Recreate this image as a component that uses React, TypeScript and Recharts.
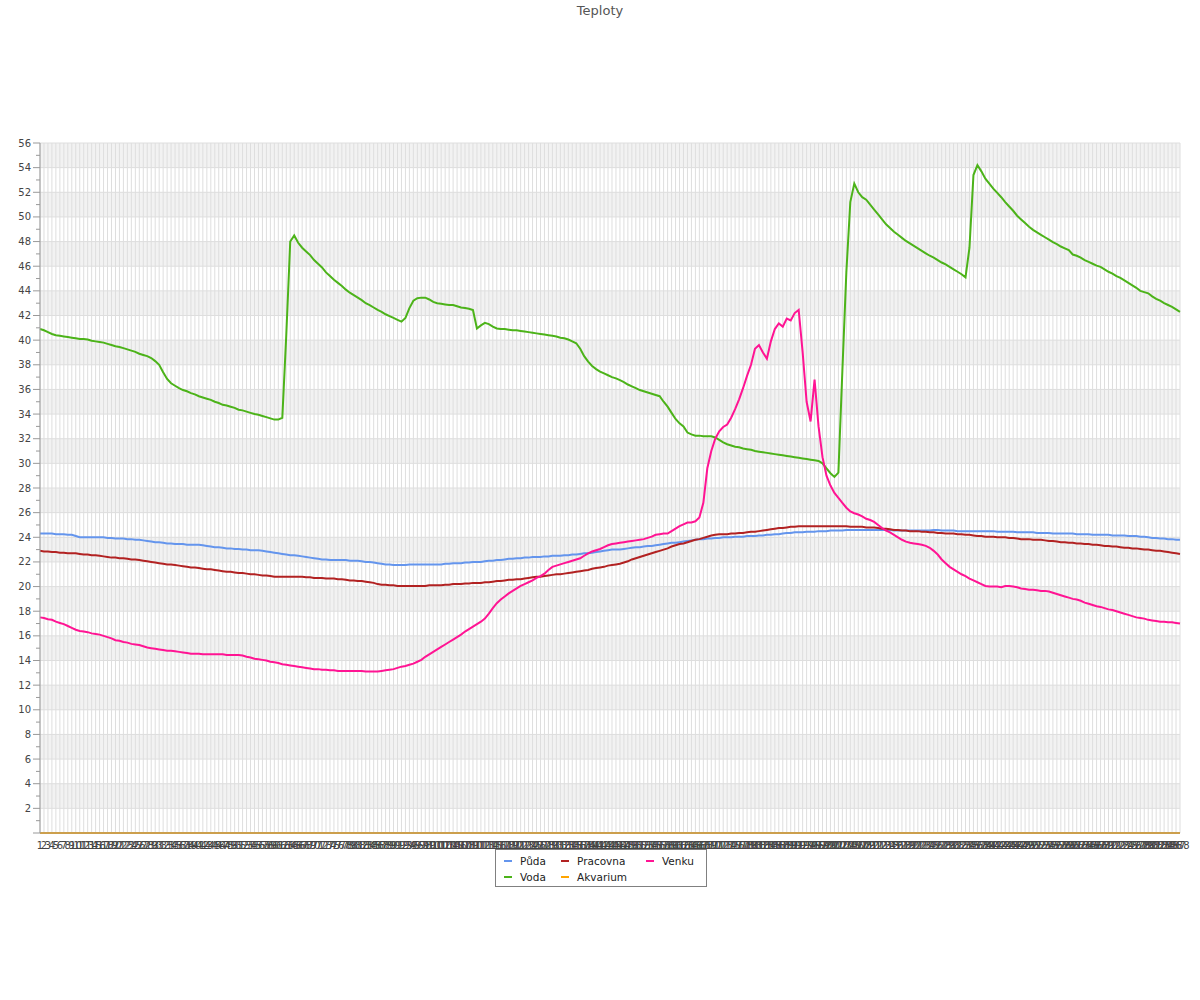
import { LineChart, Line, XAxis, YAxis, CartesianGrid, Legend } from "recharts";

// 5-minute samples over one day
const CATEGORIES = Array.from({ length: 288 }, (_, i) => String(i + 1));

const Y_TICKS = Array.from({ length: 57 }, (_, i) => i);
const GRID_TICKS = Y_TICKS.filter((v) => v % 2 === 0);

const PUDA = [
  24.3, 24.3, 24.3, 24.3, 24.25, 24.25, 24.25, 24.2, 24.2, 24.1,
  24.0, 24.0, 24.0, 24.0, 24.0, 24.0, 24.0, 23.95, 23.95, 23.9,
  23.9, 23.9, 23.85, 23.85, 23.8, 23.8, 23.75, 23.7, 23.65, 23.6,
  23.6, 23.55, 23.5, 23.5, 23.45, 23.45, 23.45, 23.4, 23.4, 23.4,
  23.4, 23.35, 23.3, 23.25, 23.2, 23.2, 23.15, 23.1, 23.1, 23.05,
  23.05, 23.0, 23.0, 22.95, 22.95, 22.95, 22.9, 22.85, 22.8, 22.75,
  22.7, 22.65, 22.6, 22.55, 22.55, 22.5, 22.45, 22.4, 22.35, 22.3,
  22.25, 22.2, 22.2, 22.15, 22.15, 22.15, 22.15, 22.15, 22.1, 22.1,
  22.1, 22.05, 22.0, 22.0, 21.95, 21.9, 21.85, 21.8, 21.8, 21.75,
  21.75, 21.75, 21.75, 21.8, 21.8, 21.8, 21.8, 21.8, 21.8, 21.8,
  21.8, 21.8, 21.85, 21.85, 21.9, 21.9, 21.9, 21.95, 21.95, 22.0,
  22.0, 22.0, 22.05, 22.1, 22.1, 22.15, 22.15, 22.2, 22.25, 22.25,
  22.3, 22.3, 22.35, 22.35, 22.4, 22.4, 22.4, 22.45, 22.45, 22.5,
  22.5, 22.5, 22.55, 22.55, 22.6, 22.6, 22.65, 22.7, 22.7, 22.75,
  22.8, 22.85, 22.9, 22.95, 23.0, 23.0, 23.0, 23.05, 23.1, 23.15,
  23.2, 23.2, 23.25, 23.3, 23.3, 23.35, 23.4, 23.45, 23.5, 23.55,
  23.55, 23.6, 23.65, 23.7, 23.75, 23.8, 23.85, 23.85, 23.9, 23.9,
  23.95, 23.95, 24.0, 24.0, 24.0, 24.05, 24.05, 24.05, 24.1, 24.1,
  24.1, 24.15, 24.15, 24.2, 24.2, 24.25, 24.25, 24.3, 24.35, 24.35,
  24.4, 24.4, 24.4, 24.45, 24.45, 24.45, 24.5, 24.5, 24.5, 24.55,
  24.55, 24.55, 24.55, 24.6, 24.6, 24.6, 24.6, 24.6, 24.6, 24.6,
  24.6, 24.6, 24.6, 24.6, 24.6, 24.55, 24.55, 24.55, 24.55, 24.55,
  24.55, 24.55, 24.55, 24.55, 24.55, 24.6, 24.6, 24.55, 24.55, 24.55,
  24.55, 24.5, 24.5, 24.5, 24.5, 24.5, 24.5, 24.5, 24.5, 24.5,
  24.5, 24.45, 24.45, 24.45, 24.45, 24.45, 24.4, 24.4, 24.4, 24.4,
  24.4, 24.35, 24.35, 24.35, 24.35, 24.3, 24.3, 24.3, 24.3, 24.3,
  24.3, 24.25, 24.25, 24.25, 24.25, 24.2, 24.2, 24.2, 24.2, 24.2,
  24.15, 24.15, 24.15, 24.15, 24.1, 24.1, 24.1, 24.05, 24.05, 24.0,
  23.95, 23.95, 23.9, 23.9, 23.85, 23.85, 23.8, 23.8,
];

const PRACOVNA = [
  22.9, 22.85, 22.85, 22.8, 22.8, 22.75, 22.75, 22.7, 22.7, 22.7,
  22.65, 22.6, 22.6, 22.55, 22.55, 22.5, 22.45, 22.4, 22.35, 22.35,
  22.3, 22.3, 22.25, 22.2, 22.2, 22.15, 22.1, 22.05, 22.0, 21.95,
  21.9, 21.85, 21.8, 21.8, 21.75, 21.7, 21.65, 21.6, 21.55, 21.55,
  21.5, 21.45, 21.4, 21.4, 21.35, 21.3, 21.25, 21.2, 21.2, 21.15,
  21.1, 21.1, 21.05, 21.0, 21.0, 20.95, 20.9, 20.9, 20.85, 20.8,
  20.8, 20.8, 20.8, 20.8, 20.8, 20.8, 20.8, 20.75, 20.75, 20.7,
  20.7, 20.7, 20.65, 20.65, 20.65, 20.6, 20.6, 20.55, 20.5, 20.5,
  20.45, 20.45, 20.4, 20.35, 20.3, 20.2, 20.15, 20.15, 20.1, 20.1,
  20.05, 20.05, 20.05, 20.05, 20.05, 20.05, 20.05, 20.05, 20.1, 20.1,
  20.1, 20.1, 20.15, 20.15, 20.2, 20.2, 20.2, 20.25, 20.25, 20.3,
  20.3, 20.3, 20.35, 20.35, 20.4, 20.45, 20.45, 20.5, 20.55, 20.55,
  20.6, 20.6, 20.65, 20.7, 20.75, 20.8, 20.8, 20.85, 20.9, 20.95,
  21.0, 21.0, 21.05, 21.1, 21.15, 21.2, 21.25, 21.3, 21.35, 21.45,
  21.5, 21.55, 21.6, 21.7, 21.75, 21.8, 21.85, 21.95, 22.05, 22.2,
  22.3, 22.4, 22.5, 22.6, 22.7, 22.8, 22.9, 23.0, 23.1, 23.25,
  23.35, 23.45, 23.5, 23.6, 23.7, 23.8, 23.85, 23.95, 24.05, 24.15,
  24.2, 24.25, 24.25, 24.25, 24.3, 24.3, 24.35, 24.35, 24.4, 24.45,
  24.45, 24.5, 24.55, 24.6, 24.65, 24.7, 24.75, 24.75, 24.8, 24.85,
  24.85, 24.9, 24.9, 24.9, 24.9, 24.9, 24.9, 24.9, 24.9, 24.9,
  24.9, 24.9, 24.9, 24.9, 24.85, 24.85, 24.85, 24.85, 24.8, 24.8,
  24.8, 24.75, 24.7, 24.7, 24.65, 24.6, 24.6, 24.55, 24.55, 24.5,
  24.5, 24.5, 24.45, 24.45, 24.4, 24.4, 24.35, 24.35, 24.3, 24.3,
  24.3, 24.25, 24.25, 24.2, 24.2, 24.15, 24.1, 24.1, 24.05, 24.05,
  24.05, 24.0, 24.0, 24.0, 23.95, 23.95, 23.9, 23.85, 23.85, 23.85,
  23.8, 23.8, 23.8, 23.75, 23.7, 23.7, 23.65, 23.6, 23.6, 23.55,
  23.55, 23.5, 23.5, 23.45, 23.45, 23.4, 23.4, 23.35, 23.3, 23.3,
  23.25, 23.25, 23.2, 23.15, 23.15, 23.1, 23.1, 23.05, 23.0, 23.0,
  22.95, 22.9, 22.9, 22.85, 22.8, 22.75, 22.7, 22.65,
];

const VENKU = [
  17.5, 17.45, 17.35, 17.3, 17.15, 17.05, 16.95, 16.8, 16.65, 16.5,
  16.4, 16.35, 16.3, 16.2, 16.15, 16.1, 16.0, 15.9, 15.8, 15.65,
  15.6, 15.5, 15.45, 15.35, 15.3, 15.25, 15.15, 15.05, 15.0, 14.95,
  14.9, 14.85, 14.8, 14.8, 14.75, 14.7, 14.65, 14.6, 14.55, 14.55,
  14.55, 14.5, 14.5, 14.5, 14.5, 14.5, 14.5, 14.45, 14.45, 14.45,
  14.45, 14.4, 14.3, 14.25, 14.15, 14.1, 14.05, 14.0, 13.9, 13.85,
  13.8, 13.7, 13.65, 13.6, 13.55, 13.5, 13.45, 13.4, 13.35, 13.3,
  13.3, 13.25, 13.25, 13.2, 13.2, 13.15, 13.15, 13.15, 13.15, 13.15,
  13.15, 13.15, 13.1, 13.1, 13.1, 13.1, 13.15, 13.2, 13.25, 13.3,
  13.4, 13.5, 13.55, 13.65, 13.75, 13.9, 14.05, 14.3, 14.5, 14.7,
  14.9, 15.1, 15.3, 15.5, 15.7, 15.9, 16.1, 16.35, 16.55, 16.75,
  16.95, 17.15, 17.4, 17.8, 18.25, 18.65, 18.95, 19.2, 19.45, 19.65,
  19.85, 20.05, 20.2, 20.35, 20.5, 20.7, 20.85, 21.05, 21.35, 21.6,
  21.7, 21.8, 21.9, 22.0, 22.1, 22.2, 22.3, 22.5, 22.7, 22.85,
  22.95, 23.05, 23.2, 23.35, 23.45, 23.5, 23.55, 23.6, 23.65, 23.7,
  23.75, 23.8, 23.85, 23.95, 24.05, 24.2, 24.25, 24.3, 24.3, 24.5,
  24.7, 24.9, 25.05, 25.2, 25.2, 25.3, 25.6, 26.8, 29.6, 31.0,
  32.0, 32.6, 32.95, 33.15, 33.7, 34.4, 35.2, 36.1, 37.1, 38.0,
  39.3, 39.6, 39.0, 38.5, 39.9, 40.9, 41.35, 41.1, 41.75, 41.6,
  42.2, 42.45, 39.0, 35.0, 33.4, 36.8, 33.0, 30.5, 29.0, 28.2,
  27.6, 27.2, 26.8, 26.4, 26.1, 25.95, 25.85, 25.7, 25.5, 25.4,
  25.25, 25.0, 24.75, 24.55, 24.4, 24.2, 24.0, 23.8, 23.65, 23.55,
  23.5, 23.45, 23.4, 23.3, 23.15, 22.9, 22.6, 22.2, 21.9, 21.6,
  21.4, 21.2, 21.0, 20.85, 20.65, 20.5, 20.35, 20.2, 20.05, 20.0,
  20.0, 20.0, 19.95, 20.05, 20.05, 20.0, 19.95, 19.85, 19.8, 19.75,
  19.75, 19.7, 19.65, 19.65, 19.6, 19.5, 19.4, 19.3, 19.2, 19.1,
  19.0, 18.95, 18.85, 18.7, 18.6, 18.5, 18.4, 18.35, 18.25, 18.15,
  18.1, 18.0, 17.9, 17.8, 17.7, 17.6, 17.5, 17.45, 17.4, 17.3,
  17.25, 17.2, 17.15, 17.15, 17.1, 17.1, 17.05, 17.0,
];

const VODA = [
  40.9, 40.8, 40.65, 40.5, 40.4, 40.35, 40.3, 40.25, 40.2, 40.15,
  40.1, 40.1, 40.05, 39.95, 39.9, 39.85, 39.8, 39.7, 39.6, 39.5,
  39.45, 39.35, 39.25, 39.15, 39.05, 38.9, 38.8, 38.7, 38.55, 38.3,
  38.0, 37.4, 36.85, 36.5, 36.3, 36.1, 35.95, 35.85, 35.7, 35.6,
  35.45, 35.35, 35.25, 35.15, 35.0, 34.9, 34.75, 34.7, 34.6, 34.5,
  34.35, 34.3, 34.2, 34.1, 34.0, 33.95, 33.85, 33.75, 33.65, 33.55,
  33.55, 33.7, 40.4, 48.0, 48.5, 47.9, 47.5, 47.2, 46.9, 46.5,
  46.2, 45.9, 45.5, 45.2, 44.9, 44.65, 44.4, 44.1, 43.85, 43.65,
  43.45, 43.25, 43.0, 42.85, 42.65, 42.45, 42.3, 42.1, 41.95, 41.8,
  41.65, 41.5, 41.8, 42.6, 43.2, 43.4, 43.45, 43.45, 43.3, 43.1,
  43.0, 42.95, 42.9, 42.85, 42.85, 42.75, 42.65, 42.6, 42.55, 42.45,
  40.95, 41.2, 41.4, 41.3, 41.1, 40.95, 40.9, 40.9, 40.85, 40.8,
  40.8, 40.75, 40.7, 40.65, 40.6, 40.55, 40.5, 40.45, 40.4, 40.35,
  40.3, 40.2, 40.15, 40.05, 39.9, 39.75, 39.3, 38.7, 38.25, 37.9,
  37.65, 37.45, 37.3, 37.15, 37.0, 36.9, 36.75, 36.6, 36.4, 36.25,
  36.1, 35.95, 35.85, 35.75, 35.65, 35.55, 35.45, 35.0, 34.6, 34.1,
  33.6, 33.25, 33.0, 32.5, 32.35, 32.25, 32.25, 32.2, 32.2, 32.2,
  32.1, 31.9, 31.7, 31.55, 31.45, 31.35, 31.3, 31.2, 31.15, 31.1,
  31.0, 30.95, 30.9, 30.85, 30.8, 30.75, 30.7, 30.65, 30.6, 30.55,
  30.5, 30.45, 30.4, 30.35, 30.3, 30.25, 30.2, 30.0, 29.6, 29.2,
  28.9, 29.25, 37.5, 45.5, 51.2, 52.7, 52.0, 51.6, 51.4, 51.0,
  50.6, 50.2, 49.8, 49.4, 49.1, 48.8, 48.55, 48.3, 48.05, 47.85,
  47.65, 47.45, 47.25, 47.05, 46.85, 46.7, 46.5, 46.3, 46.15, 45.95,
  45.75, 45.55, 45.35, 45.1, 47.5, 53.4, 54.2, 53.7, 53.1, 52.7,
  52.3, 51.95, 51.6, 51.2, 50.85, 50.5, 50.1, 49.8, 49.5, 49.2,
  48.95, 48.75, 48.55, 48.35, 48.15, 47.95, 47.8, 47.6, 47.45, 47.3,
  46.95, 46.85, 46.7, 46.5, 46.35, 46.2, 46.05, 45.95, 45.75, 45.55,
  45.4, 45.2, 45.05, 44.85, 44.65, 44.45, 44.25, 44.0, 43.9, 43.8,
  43.55, 43.35, 43.2, 43.0, 42.85, 42.7, 42.5, 42.3,
];

const AKVARIUM = [
  0, 0, 0, 0, 0, 0, 0, 0, 0, 0, 0, 0, 0, 0, 0, 0, 0, 0, 0, 0, 0, 0, 0, 0,
  0, 0, 0, 0, 0, 0, 0, 0, 0, 0, 0, 0, 0, 0, 0, 0, 0, 0, 0, 0, 0, 0, 0, 0,
  0, 0, 0, 0, 0, 0, 0, 0, 0, 0, 0, 0, 0, 0, 0, 0, 0, 0, 0, 0, 0, 0, 0, 0,
  0, 0, 0, 0, 0, 0, 0, 0, 0, 0, 0, 0, 0, 0, 0, 0, 0, 0, 0, 0, 0, 0, 0, 0,
  0, 0, 0, 0, 0, 0, 0, 0, 0, 0, 0, 0, 0, 0, 0, 0, 0, 0, 0, 0, 0, 0, 0, 0,
  0, 0, 0, 0, 0, 0, 0, 0, 0, 0, 0, 0, 0, 0, 0, 0, 0, 0, 0, 0, 0, 0, 0, 0,
  0, 0, 0, 0, 0, 0, 0, 0, 0, 0, 0, 0, 0, 0, 0, 0, 0, 0, 0, 0, 0, 0, 0, 0,
  0, 0, 0, 0, 0, 0, 0, 0, 0, 0, 0, 0, 0, 0, 0, 0, 0, 0, 0, 0, 0, 0, 0, 0,
  0, 0, 0, 0, 0, 0, 0, 0, 0, 0, 0, 0, 0, 0, 0, 0, 0, 0, 0, 0, 0, 0, 0, 0,
  0, 0, 0, 0, 0, 0, 0, 0, 0, 0, 0, 0, 0, 0, 0, 0, 0, 0, 0, 0, 0, 0, 0, 0,
  0, 0, 0, 0, 0, 0, 0, 0, 0, 0, 0, 0, 0, 0, 0, 0, 0, 0, 0, 0, 0, 0, 0, 0,
  0, 0, 0, 0, 0, 0, 0, 0, 0, 0, 0, 0, 0, 0, 0, 0, 0, 0, 0, 0, 0, 0, 0, 0,
];

const SERIES = [
  { key: "puda", name: "Půda", color: "#6495ed", values: PUDA },
  { key: "voda", name: "Voda", color: "#4cb319", values: VODA },
  { key: "pracovna", name: "Pracovna", color: "#b22222", values: PRACOVNA },
  { key: "akvarium", name: "Akvarium", color: "#ffa500", values: AKVARIUM },
  { key: "venku", name: "Venku", color: "#ff1493", values: VENKU },
];

// legend reads row by row: Půda, Pracovna, Venku / Voda, Akvarium
const LEGEND_ORDER = ["puda", "pracovna", "venku", "voda", "akvarium"];

const data = CATEGORIES.map((name, i) => {
  const row: Record<string, string | number> = { name };
  SERIES.forEach((s) => {
    row[s.key] = s.values[i];
  });
  return row;
});

function YTick(props: any) {
  const { x, y, payload } = props;
  const v = payload.value as number;
  const major = v % 2 === 0;
  return (
    <g>
      <line x1={x - (major ? 7 : 4)} x2={x} y1={y} y2={y} stroke="#999" />
      {major && v !== 0 && (
        <text x={x - 9} y={y} dy="0.35em" textAnchor="end" fontSize={10} fill="#444">
          {v}
        </text>
      )}
    </g>
  );
}

function LegendBox() {
  return (
    <div
      style={{
        border: "1px solid #808080",
        background: "#fff",
        display: "grid",
        gridTemplateColumns: "57px 85px 58px",
        padding: "3px 0 1px 8px",
        fontSize: 10.5,
        color: "#222",
      }}
    >
      {LEGEND_ORDER.map((k) => {
        const s = SERIES.find((x) => x.key === k)!;
        return (
          <div key={k} style={{ display: "flex", alignItems: "center", height: 16 }}>
            <span
              style={{
                display: "inline-block",
                width: 8,
                height: 2,
                background: s.color,
                marginRight: 8,
              }}
            />
            {s.name}
          </div>
        );
      })}
    </div>
  );
}

export default function App() {
  return (
    <div
      style={{
        position: "absolute",
        top: 0,
        left: 0,
        width: 1200,
        height: 1000,
        fontFamily: "'DejaVu Sans', sans-serif",
      }}
    >
      <div
        style={{
          position: "absolute",
          zIndex: 5,
          top: 2,
          left: 0,
          width: 1200,
          textAlign: "center",
          fontSize: 13,
          lineHeight: "18px",
          color: "#555",
        }}
      >
        Teploty
      </div>
      <LineChart
        width={1200}
        height={1000}
        data={data}
        margin={{ top: 143, right: 20, bottom: 147, left: 0 }}
      >
        <CartesianGrid
          stroke="#dedede"
          horizontalValues={GRID_TICKS}
          horizontalFill={["#f2f2f2", "#ffffff"]}
        />
        <XAxis
          dataKey="name"
          interval={0}
          height={20}
          tickLine={false}
          tickSize={0}
          tickMargin={9}
          tick={{ fontSize: 10, fill: "#444" }}
          axisLine={{ stroke: "#999" }}
        />
        <YAxis
          type="number"
          domain={[0, 56]}
          ticks={Y_TICKS}
          interval={0}
          width={40}
          tickLine={false}
          tickSize={0}
          tickMargin={0}
          tick={(p: any) => <YTick {...p} />}
          axisLine={{ stroke: "#999" }}
        />
        <Legend
          layout="vertical"
          align="center"
          verticalAlign="middle"
          wrapperStyle={{ top: 849, left: 495, width: 212 }}
          content={() => <LegendBox />}
        />
        {SERIES.map((s) => (
          <Line
            key={s.key}
            type="linear"
            dataKey={s.key}
            name={s.name}
            stroke={s.color}
            strokeWidth={2}
            dot={false}
            isAnimationActive={false}
          />
        ))}
      </LineChart>
    </div>
  );
}
